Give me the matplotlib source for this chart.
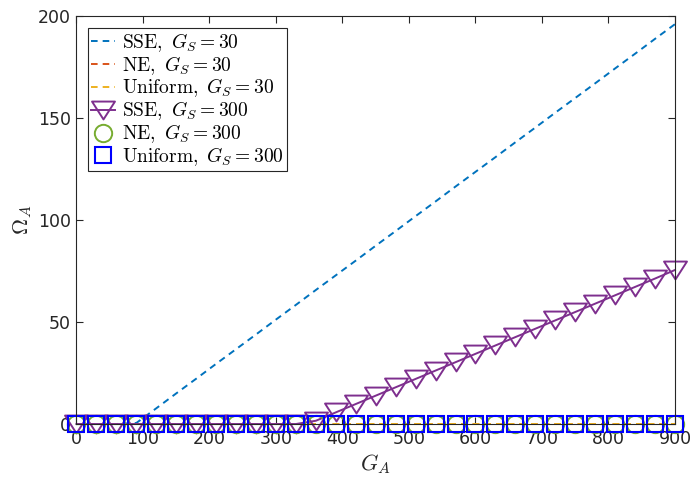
import matplotlib
matplotlib.use("Agg")
import matplotlib.pyplot as plt
from matplotlib.path import Path

plt.rcParams['mathtext.fontset'] = 'cm'

g_a = [0, 30, 60, 90, 120, 150, 180, 210, 240, 270, 300, 330, 360, 390, 420,
       450, 480, 510, 540, 570, 600, 630, 660, 690, 720, 750, 780, 810, 840, 870, 900]

sse_30 = [0, 0, 0, 0.5, 7.7, 15.0, 22.2, 29.5, 36.7, 43.9, 51.2, 58.4, 65.7, 72.9, 80.1,
          87.4, 94.6, 101.9, 109.1, 116.4, 123.6, 130.8, 138.1, 145.3, 152.6, 159.8,
          167.0, 174.3, 181.5, 188.8, 196.0]
ne_30 = [0] * 31
uniform_30 = [0] * 31
sse_300 = [0, 0, 0, 0, 0, 0, 0, 0, 0, 0, 0, 0, 1.6, 5.7, 9.8,
           13.9, 18.0, 22.1, 26.2, 30.3, 34.4, 38.5, 42.6, 46.7, 50.8, 54.9,
           59.0, 63.1, 67.2, 71.3, 75.5]
ne_300 = [0] * 31
uniform_300 = [0] * 31

labels = [r"$\mathrm{SSE,}\ G_S = 30$", r"$\mathrm{NE,}\ G_S = 30$",
          r"$\mathrm{Uniform,}\ G_S = 30$", r"$\mathrm{SSE,}\ G_S = 300$",
          r"$\mathrm{NE,}\ G_S = 300$", r"$\mathrm{Uniform,}\ G_S = 300$"]
xticks = [0, 100, 200, 300, 400, 500, 600, 700, 800, 900]
yticks = [0, 50, 100, 150, 200]

tri = Path([(-1, 0.78), (1, 0.78), (0, -0.78), (-1, 0.78)],
           [Path.MOVETO, Path.LINETO, Path.LINETO, Path.CLOSEPOLY])

fig = plt.figure(figsize=(6.92, 4.79), dpi=100)
ax = fig.add_axes([0.1105, 0.1148, 0.8649, 0.8518])

dash = (3.4, 2.6)
ax.plot(g_a, sse_30, color='#0072BD', lw=1.4, dashes=dash, label=labels[0])
ax.plot(g_a, ne_30, color='#D95319', lw=1.4, dashes=dash, label=labels[1])
ax.plot(g_a, uniform_30, color='#EDB120', lw=1.4, dashes=dash, label=labels[2])
ax.plot(g_a, sse_300, color='#7E2F8E', lw=1.4, marker=tri, ms=16.5, mfc='none',
        mew=1.4, label=labels[3], clip_on=False)
ax.plot(g_a, ne_300, color='#77AC30', ls='none', marker='o', ms=12.5, mfc='none',
        mew=1.4, label=labels[4], clip_on=False)
ax.plot(g_a, uniform_300, color='#0000FF', ls='none', marker='s', ms=11.5, mfc='none',
        mew=1.5, label=labels[5], clip_on=False)

ax.set_xlim(0, 900)
ax.set_ylim(0, 200)
ax.set_xticks(xticks)
ax.set_yticks(yticks)
ax.tick_params(direction='in', top=True, right=True, length=5, width=0.8,
               colors='#262626', labelsize=12.5, pad=4)
for s in ax.spines.values():
    s.set_color('#262626')
    s.set_linewidth(0.8)

ax.set_xlabel(r"$G_A$", fontsize=16, color='#262626', labelpad=3)
ax.set_ylabel(r"$\Omega_A$", fontsize=16, color='#262626', labelpad=3)

leg = ax.legend(loc='upper left', bbox_to_anchor=(0.019, 0.971), borderaxespad=0,
                fontsize=14, frameon=True, fancybox=False, framealpha=1,
                edgecolor='#262626', handlelength=1.25, handletextpad=0.35,
                labelspacing=0.0, borderpad=0.15)
leg.get_frame().set_linewidth(0.8)

fig.savefig("out.png", dpi=100)
